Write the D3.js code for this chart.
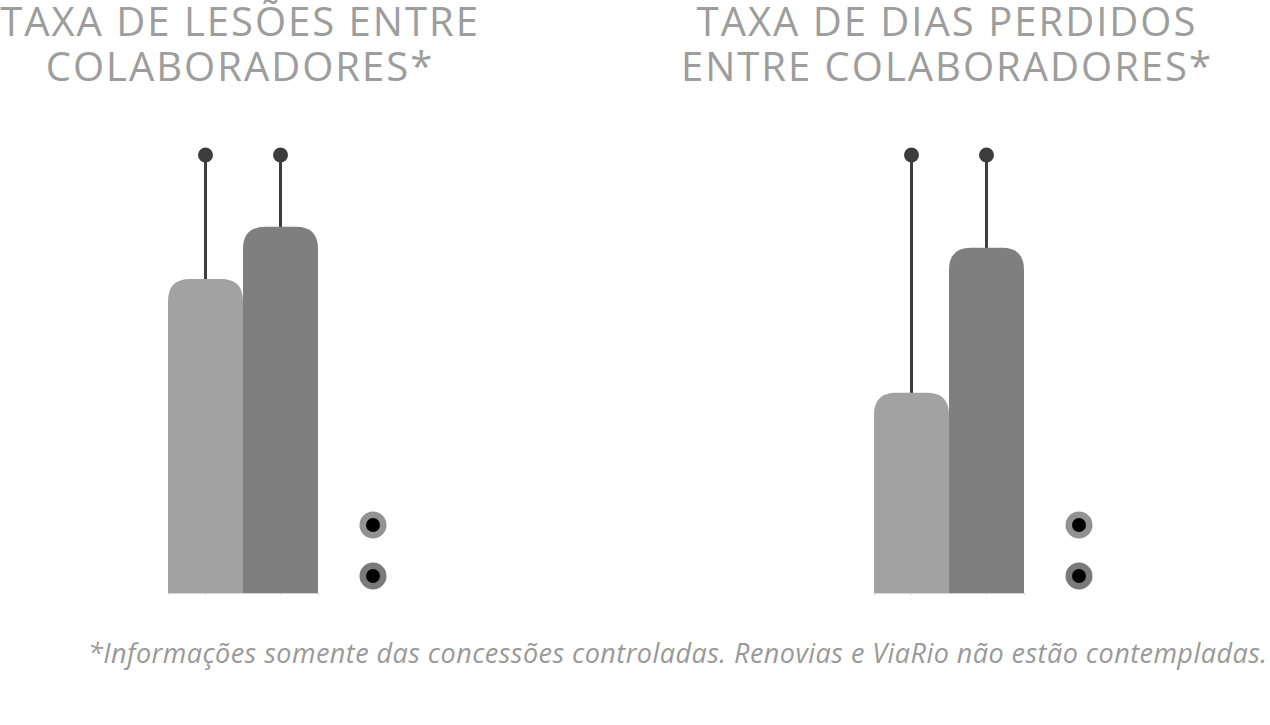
<!DOCTYPE html>
<html>
<head>
<meta charset="utf-8">
<script src="https://cdn.jsdelivr.net/npm/d3@7"></script>
<style>
  html, body { margin: 0; padding: 0; background: #fff; }
  svg { display: block; }
</style>
</head>
<body>
<svg id="chart" width="1270" height="725"></svg>
<script>
"use strict";

// series / categories (as share of the reference marker)
const series = ["Ano anterior", "Ano atual"];
const lesoes = [71.7, 83.6];
const diasPerdidos = [45.7, 78.8];
const marker = [100, 100];

const titles = [
  ["TAXA DE LESÕES ENTRE", "COLABORADORES*"],
  ["TAXA DE DIAS PERDIDOS", "ENTRE COLABORADORES*"]
];
const footnote = "*Informações somente das concessões controladas. Renovias e ViaRio não estão contempladas.";

const barColors = ["#a2a2a2", "#7f7f7f"];
const ringColors = ["#929292", "#7a7a7a"];

const svg = d3.select("#chart");

const baseY = 593, topY = 155;
const y = d3.scaleLinear().domain([0, 100]).range([baseY, topY]);

/**
 * Bar with rounded top corners
 */
function roundTop(x0, w, y0, y1, r)
{
    return "M" + x0 + "," + y1 +
           "V" + (y0 + r) +
           "Q" + x0 + "," + y0 + " " + (x0 + r) + "," + y0 +
           "H" + (x0 + w - r) +
           "Q" + (x0 + w) + "," + y0 + " " + (x0 + w) + "," + (y0 + r) +
           "V" + y1 + "Z";
}

function panel(left, titleX, values, title)
{
    let x = d3.scaleBand()
              .domain(series)
              .range([left, left + 150])
              .padding(0);

    let g = svg.append("g");

    // baseline
    g.append("g")
     .attr("transform", "translate(0," + baseY + ")")
     .call(d3.axisBottom(x).tickSize(2).tickFormat(""))
     .call(a => a.selectAll("path, line").attr("stroke", "#d4d4d4"));

    // marker lines
    g.selectAll(".stem")
     .data(series)
     .join("line")
     .attr("x1", d => x(d) + x.bandwidth() / 2)
     .attr("x2", d => x(d) + x.bandwidth() / 2)
     .attr("y1", (d, i) => y(values[i]) + 2)
     .attr("y2", (d, i) => y(marker[i]))
     .attr("stroke", "#3d3d3d")
     .attr("stroke-width", 3);

    g.selectAll(".tip")
     .data(series)
     .join("circle")
     .attr("cx", d => x(d) + x.bandwidth() / 2)
     .attr("cy", (d, i) => y(marker[i]))
     .attr("r", 7.5)
     .attr("fill", "#3d3d3d");

    // bars
    g.selectAll(".bar")
     .data(series)
     .join("path")
     .attr("d", (d, i) => roundTop(x(d), x.bandwidth(), y(values[i]), y(0), 22))
     .attr("fill", (d, i) => barColors[i]);

    // legend dots
    let lx = left + 205;
    let ly = d3.scalePoint().domain(series).range([525, 576]);
    g.selectAll(".ring")
     .data(series)
     .join("circle")
     .attr("cx", lx)
     .attr("cy", d => ly(d))
     .attr("r", 13.5)
     .attr("fill", (d, i) => ringColors[i]);
    g.selectAll(".dot")
     .data(series)
     .join("circle")
     .attr("cx", lx)
     .attr("cy", d => ly(d))
     .attr("r", 7)
     .attr("fill", "#000");

    // title
    let t = g.append("text")
             .attr("x", titleX)
             .attr("text-anchor", "middle")
             .attr("font-family", "'Open Sans', sans-serif")
             .attr("font-size", 40)
             .attr("letter-spacing", 2)
             .attr("fill", "#9d9d9d");
    t.selectAll("tspan")
     .data(title)
     .join("tspan")
     .attr("x", titleX)
     .attr("y", (d, i) => 36 + i * 45)
     .text(d => d);
}

panel(168, 240, lesoes, titles[0]);
panel(874, 947, diasPerdidos, titles[1]);

svg.append("text")
   .attr("x", 88)
   .attr("y", 663)
   .attr("font-family", "'Open Sans', sans-serif")
   .attr("font-style", "italic")
   .attr("font-size", 27)
   .attr("letter-spacing", 0.45)
   .attr("fill", "#999999")
   .text(footnote);
</script>
</body>
</html>
